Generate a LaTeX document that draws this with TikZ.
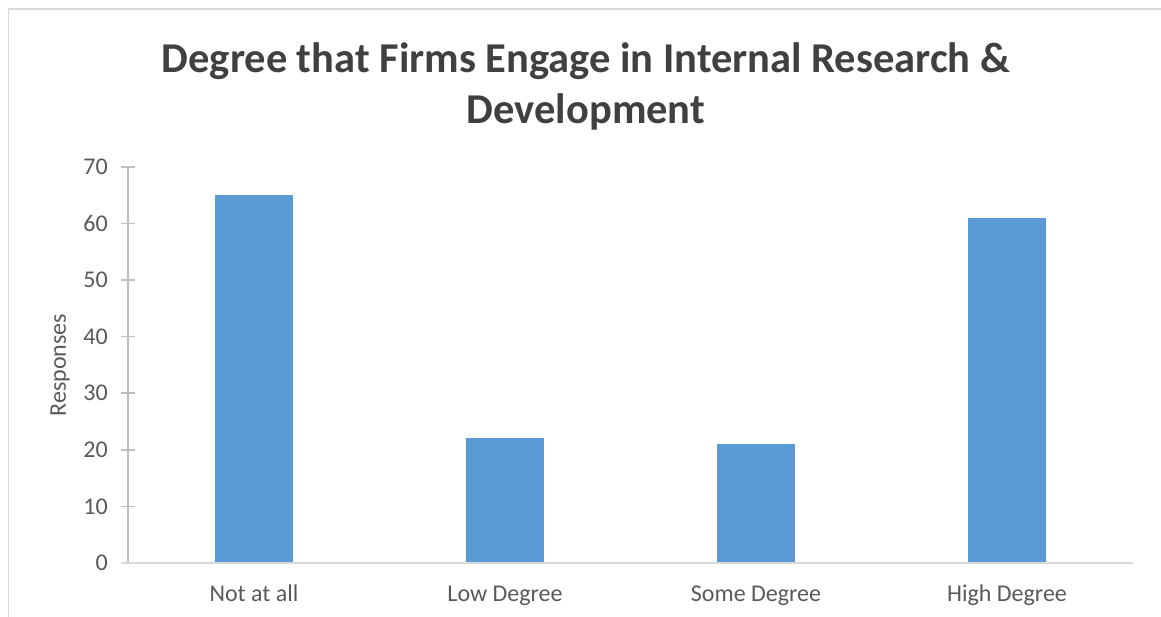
\documentclass[tikz,border=0pt]{standalone}
\usepackage{fontspec}
\setmainfont{Carlito}
\usetikzlibrary{positioning}
\definecolor{barblue}{HTML}{5B9BD5}
\definecolor{ticktext}{HTML}{595959}
\definecolor{titletext}{HTML}{404040}
\definecolor{axisgray}{HTML}{BFBFBF}
\definecolor{framegray}{HTML}{D9D9D9}
\tikzset{
  bar/.style={fill=barblue, draw=none},
  ticklabel/.style={anchor=east, text=ticktext, font=\fontsize{24}{27}\selectfont, inner sep=0pt},
  catlabel/.style={anchor=base, text=ticktext, font=\fontsize{24}{27}\selectfont, inner sep=0pt},
}
\begin{document}
\begin{tikzpicture}[x=1pt, y=-1pt]
\def\x0{128} % y axis position
\def\yz{563} % baseline of the bars
\def\ys{5.66} % pixels per response
\def\bw{39} % half width of a bar
\useasboundingbox (0,0) rectangle (1161,617);
% chart frame
\draw[framegray, line width=1.5pt] (8.5,617) -- (8.5,9) -- (1161,9);
% title
\node[text=titletext, font=\fontsize{42.5}{51}\selectfont\bfseries, align=center, inner sep=0pt]
  (title) at (586,86) {Degree that Firms Engage in Internal Research \&\\Development};
% axis title
\node[rotate=90, text=ticktext, font=\fontsize{24}{27}\selectfont, inner sep=0pt]
  (ylabel) at (60,365) {Responses};
% value axis with ticks
\coordinate (axtop) at (128,166);
\coordinate (axbot) at (128,563);
\draw[axisgray, line width=1.5pt] (axtop) -- (axbot);
\foreach \v in {0,10,...,70}{
  \draw[axisgray, line width=1.5pt] (121,\yz-\v*\ys) -- (135,\yz-\v*\ys);
  \node[ticklabel] (tick\v) at (108,\yz-\v*\ys) {\v};
}
% category axis
\coordinate (baseL) at (121,563);
\coordinate (baseR) at (1133,563);
\draw[framegray, line width=1.5pt] (baseL) -- (baseR);
% bars and their labels
\foreach \c/\v/\name/\lab in {254/65/notall/Not at all, 505/22/low/Low Degree,
    756/21/some/Some Degree, 1007/61/high/High Degree}{
  \fill[bar] (\c-\bw,\yz-\v*\ys) rectangle (\c+\bw,\yz-0.8);
  \node[catlabel] (cat\name) at (\c,601) {\lab};
}
\end{tikzpicture}
\end{document}
